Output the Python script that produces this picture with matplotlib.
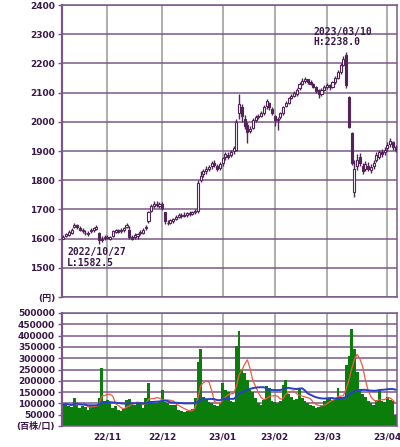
import matplotlib
matplotlib.use('Agg')
import matplotlib.pyplot as plt
import numpy as np
import pandas as pd

plt.rcParams['font.family'] = ['DejaVu Sans', 'Noto Sans CJK JP']

# trading days shown on the chart (Tokyo, 2022/10/07 - 2023/04/06)
holidays = ['2022-10-10', '2022-11-03', '2022-11-23', '2023-01-02', '2023-01-03',
            '2023-01-09', '2023-02-23', '2023-03-21']
days = pd.bdate_range('2022-10-07', '2023-04-06')
days = days[~days.isin(pd.to_datetime(holidays))]

# daily prices (yen)
open_ = [1600, 1610, 1612, 1620, 1640, 1645, 1638, 1628, 1620, 1615, 1625, 1628, 1632, 1620, 1595, 1602,
         1605, 1600, 1610, 1622, 1628, 1625, 1628, 1640, 1630, 1605, 1605, 1610, 1618, 1620, 1635, 1660, 1695, 1710, 1720, 1712,
         1718, 1690, 1655, 1655, 1660, 1668, 1675, 1678, 1682, 1680, 1688, 1685, 1690, 1695, 1800, 1820, 1830, 1838, 1848, 1860, 1850, 1842,
         1860, 1878, 1885, 1885, 1900, 1905, 2030, 2050, 2010, 1990, 1970, 1980, 2005, 2015, 2020, 2030, 2055, 2065, 2045,
         2020, 2005, 2015, 2030, 2055, 2065, 2080, 2090, 2095, 2115, 2130, 2140, 2145, 2138, 2130, 2120, 2110, 2095, 2110,
         2120, 2125, 2120, 2135, 2150, 2170, 2195, 2230, 2086, 1962, 1760, 1850, 1880, 1850, 1840, 1850, 1835, 1850, 1870, 1880, 1895, 1895,
         1910, 1925, 1930, 1912]
close = [1607, 1615, 1622, 1630, 1648, 1640, 1630, 1625, 1618, 1620, 1630, 1635, 1640, 1595, 1600, 1605,
         1602, 1606, 1625, 1628, 1624, 1630, 1635, 1648, 1605, 1600, 1612, 1615, 1622, 1630, 1640, 1690, 1712, 1720, 1715, 1718,
         1705, 1660, 1652, 1662, 1668, 1675, 1680, 1682, 1678, 1688, 1684, 1690, 1695, 1790, 1815, 1830, 1840, 1845, 1860, 1852, 1840, 1855,
         1875, 1890, 1880, 1895, 1910, 2000, 2060, 2020, 1985, 1965, 1975, 2005, 2015, 2020, 2030, 2050, 2070, 2050, 2030,
         2005, 2010, 2030, 2050, 2065, 2080, 2090, 2100, 2110, 2130, 2140, 2145, 2135, 2130, 2120, 2105, 2095, 2110, 2120,
         2125, 2118, 2135, 2150, 2170, 2195, 2215, 2125, 1983, 1860, 1840, 1870, 1860, 1830, 1855, 1840, 1845, 1860, 1885, 1895, 1890, 1905,
         1920, 1935, 1915, 1905]
high = [1612, 1620, 1628, 1638, 1655, 1650, 1642, 1635, 1628, 1625, 1636, 1640, 1645, 1622, 1608, 1612,
        1612, 1610, 1630, 1632, 1634, 1636, 1640, 1655, 1642, 1612, 1618, 1620, 1628, 1635, 1648, 1695, 1718, 1728, 1730, 1725,
        1725, 1692, 1662, 1668, 1672, 1680, 1686, 1688, 1690, 1692, 1694, 1696, 1700, 1800, 1830, 1840, 1848, 1852, 1866, 1868, 1855, 1862,
        1880, 1895, 1895, 1905, 1918, 2010, 2095, 2060, 2025, 2000, 1985, 2012, 2022, 2026, 2038, 2058, 2078, 2068, 2050,
        2025, 2015, 2035, 2055, 2070, 2085, 2095, 2105, 2115, 2135, 2150, 2152, 2148, 2142, 2134, 2124, 2112, 2115, 2126,
        2132, 2128, 2140, 2156, 2176, 2200, 2225, 2238, 2090, 1965, 1870, 1890, 1893, 1860, 1865, 1862, 1855, 1868, 1895, 1905, 1908, 1912,
        1930, 1945, 1935, 1920]
low = [1598, 1605, 1610, 1615, 1635, 1632, 1625, 1620, 1612, 1610, 1620, 1622, 1628, 1582.5, 1588, 1596,
       1598, 1596, 1606, 1618, 1620, 1620, 1622, 1635, 1600, 1596, 1600, 1600, 1612, 1615, 1630, 1655, 1690, 1705, 1708, 1705,
       1698, 1650, 1645, 1650, 1655, 1662, 1670, 1672, 1674, 1675, 1678, 1680, 1685, 1688, 1795, 1812, 1822, 1832, 1840, 1845, 1832, 1836,
       1850, 1870, 1872, 1878, 1890, 1900, 2010, 2000, 1975, 1928, 1960, 1975, 2000, 2010, 2015, 2025, 2045, 2040, 2022,
       1985, 1972, 2010, 2025, 2050, 2060, 2078, 2085, 2090, 2110, 2125, 2132, 2128, 2125, 2115, 2100, 2083, 2090, 2105,
       2112, 2110, 2115, 2130, 2145, 2165, 2190, 2115, 1980, 1852, 1741, 1835, 1850, 1820, 1830, 1830, 1825, 1840, 1862, 1872, 1880, 1885,
       1900, 1915, 1905, 1895]

# daily volume (x100 shares)
volume = [95000, 100000, 90000, 85000, 125000, 95000, 80000, 90000, 85000, 70000, 95000, 90000, 94000, 125000, 255000, 110000,
          115000, 100000, 80000, 90000, 70000, 65000, 75000, 115000, 120000, 100000, 95000, 100000, 98000, 80000, 125000, 190000, 110000, 103000, 100000, 110000,
          160000, 105000, 100000, 95000, 95000, 94000, 70000, 65000, 62000, 68000, 70000, 75000, 125000, 285000, 340000, 130000, 115000, 105000, 100000, 95000, 90000, 100000,
          192000, 160000, 150000, 110000, 105000, 353000, 420000, 250000, 236000, 205000, 160000, 150000, 125000, 100000, 94000, 115000, 175000, 170000, 110000,
          105000, 100000, 110000, 183000, 205000, 140000, 130000, 116000, 120000, 170000, 125000, 110000, 103000, 95000, 90000, 80000, 85000, 95000, 110000,
          125000, 120000, 116000, 125000, 170000, 130000, 130000, 272000, 308000, 428000, 340000, 240000, 165000, 140000, 130000, 110000, 100000, 95000, 115000, 160000, 110000, 105000,
          130000, 116000, 110000, 50000]

month_labels = ['22/11', '22/12', '23/01', '23/02', '23/03', '23/04']

txt = '#3a1848'
cc = '#522458'
hgrid = '#7a5888'
vgrid = '#a8a8a8'

o = np.array(open_, float)
c = np.array(close, float)
h = np.array(high, float)
l = np.array(low, float)
v = pd.Series(volume, dtype=float)
x = np.arange(len(days))
ma_short = v.rolling(5, min_periods=1).mean()
ma_long = v.rolling(25, min_periods=1).mean()

month_start = [i for i in range(1, len(days)) if days[i].month != days[i - 1].month]

fig = plt.figure(figsize=(4, 4.47), dpi=100)
ax1 = fig.add_axes([62 / 400, 1 - 297 / 447, 335 / 400, 292 / 447])
ax2 = fig.add_axes([62 / 400, 1 - 426 / 447, 335 / 400, 113 / 447])

# price panel
up = c >= o
ax1.vlines(x, l, h, color=cc, lw=1.0, zorder=3)
ax1.bar(x[up], (c - o)[up], bottom=o[up], width=0.75, facecolor='white', edgecolor=cc, lw=0.8, zorder=4)
ax1.bar(x[~up], (o - c)[~up], bottom=c[~up], width=0.75, facecolor=cc, edgecolor=cc, lw=0.8, zorder=4)

ax1.set_xlim(-0.5, len(days) - 0.5)
ax1.set_ylim(1400, 2400)
ax1.set_yticks(range(1400, 2401, 100))
ax1.set_yticklabels(['(円)'] + [str(t) for t in range(1500, 2401, 100)])
ax1.set_xticks(month_start)
ax1.set_xticklabels([])
ax1.tick_params(axis='x', length=0)

i_hi = int(np.argmax(h))
i_lo = int(np.argmin(l))
ax1.annotate(days[i_hi].strftime('%Y/%m/%d') + '\nH:%.1f' % h[i_hi], (i_hi, h[i_hi]),
             xytext=(-33, 5), textcoords='offset pixels', ha='left', va='bottom',
             family='DejaVu Sans Mono', fontsize=7, fontweight='bold', color=txt, linespacing=1.1)
ax1.annotate(days[i_lo].strftime('%Y/%m/%d') + '\nL:%.1f' % l[i_lo], (i_lo, l[i_lo]),
             xytext=(-32, -3), textcoords='offset pixels', ha='left', va='top',
             family='DejaVu Sans Mono', fontsize=7, fontweight='bold', color=txt, linespacing=1.1)

# volume panel
ax2.bar(x, v, width=1.0, color='#0a7d0a', lw=0, zorder=2)
ax2.plot(x, ma_short, color='#f05a40', lw=0.9, zorder=3)
ax2.plot(x, ma_long, color='#2a3fc8', lw=1.4, zorder=3)
ax2.set_xlim(-0.5, len(days) - 0.5)
ax2.set_ylim(0, 500000)
ax2.set_yticks(range(0, 500001, 50000))
ax2.set_yticklabels(['(百株/口)'] + [str(t) for t in range(50000, 500001, 50000)])
ax2.set_xticks(month_start)
ax2.set_xticklabels(month_labels)
ax2.tick_params(axis='x', length=0, pad=5)

for ax in (ax1, ax2):
    ax.set_axisbelow(True)
    ax.yaxis.grid(True, color=hgrid, lw=1.1)
    ax.xaxis.grid(True, color=vgrid, lw=1.3)
    for s in ax.spines.values():
        s.set_color(hgrid)
        s.set_linewidth(1.1)
    ax.spines['left'].set_linewidth(1.6)
    ax.tick_params(axis='y', length=3, width=1, color=hgrid, pad=2)
    for t in ax.get_xticklabels() + ax.get_yticklabels():
        t.set_fontsize(6.5)
        t.set_fontweight('bold')
        t.set_color(txt)

fig.savefig('out.png', dpi=100)
